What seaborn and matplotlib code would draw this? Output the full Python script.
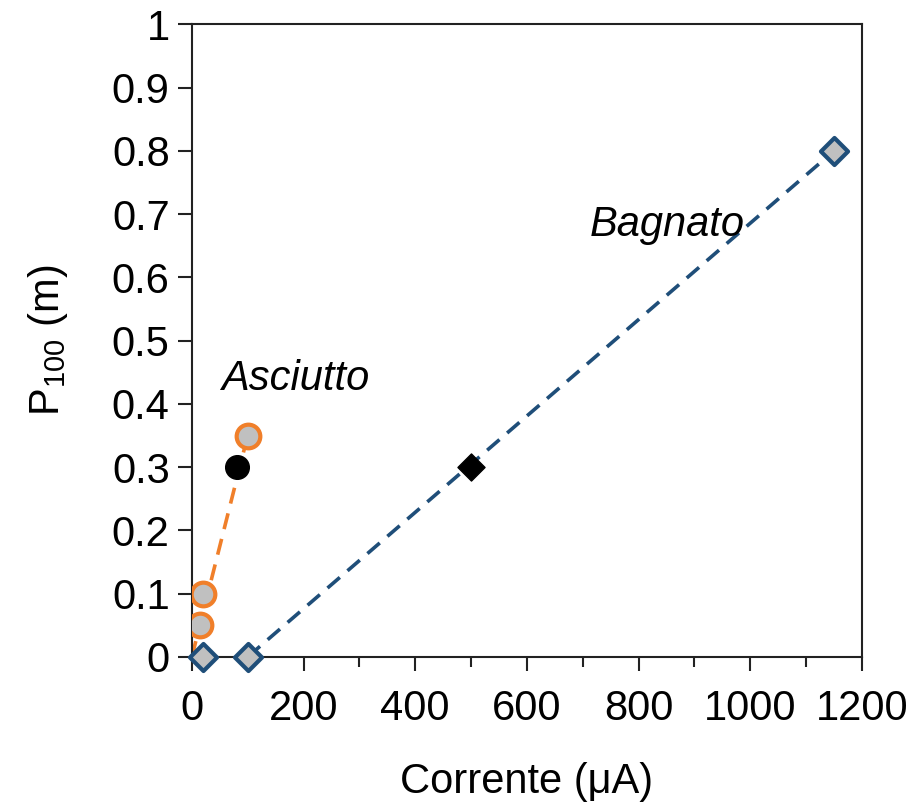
import matplotlib
matplotlib.use("Agg")
import matplotlib.pyplot as plt
import seaborn as sns
from matplotlib.ticker import MultipleLocator

# Data
asc_x = [15, 20, 100]
asc_y = [0.05, 0.10, 0.35]
asc_black_x = [80]
asc_black_y = [0.30]
asc_fit_x = [0, 100]
asc_fit_y = [0.0, 0.35]

bag_x = [20, 100, 1150]
bag_y = [0.0, 0.0, 0.80]
bag_black_x = [500]
bag_black_y = [0.30]
bag_fit_x = [100, 1150]
bag_fit_y = [0.0, 0.80]

y_ticks = [0, 0.1, 0.2, 0.3, 0.4, 0.5, 0.6, 0.7, 0.8, 0.9, 1]
y_tick_labels = ["0", "0.1", "0.2", "0.3", "0.4", "0.5", "0.6", "0.7", "0.8", "0.9", "1"]

sns.set_style("white")
plt.rcParams['font.family'] = ['Liberation Sans', 'DejaVu Sans']
plt.rcParams['mathtext.fontset'] = 'custom'
plt.rcParams['mathtext.rm'] = 'Liberation Sans'
plt.rcParams['text.color'] = 'black'
plt.rcParams['axes.labelcolor'] = 'black'
plt.rcParams['xtick.color'] = 'black'
plt.rcParams['ytick.color'] = 'black'

fig = plt.figure(figsize=(9.18, 8.11), dpi=100)
ax = fig.add_axes([0.209, 0.19, 0.730, 0.780])

orange = '#F07F2A'
navy = '#1F4E79'
gray = '#C0C0C0'

sns.lineplot(x=asc_fit_x, y=asc_fit_y, ax=ax, color=orange, lw=2.6,
             linestyle=(0, (4.5, 2.8)), zorder=2)
sns.lineplot(x=bag_fit_x, y=bag_fit_y, ax=ax, color=navy, lw=2.6,
             linestyle=(0, (4.5, 2.8)), zorder=2)

sns.scatterplot(x=asc_x, y=asc_y, ax=ax, marker='o', s=290, color=gray,
                edgecolor=orange, linewidth=3, zorder=3)
sns.scatterplot(x=asc_black_x, y=asc_black_y, ax=ax, marker='o', s=290,
                color='black', edgecolor='black', linewidth=1, zorder=3)
sns.scatterplot(x=bag_x, y=bag_y, ax=ax, marker='D', s=190, color=gray,
                edgecolor=navy, linewidth=3, zorder=4, clip_on=False)
sns.scatterplot(x=bag_black_x, y=bag_black_y, ax=ax, marker='D', s=190,
                color='black', edgecolor='black', linewidth=1, zorder=4)

ax.set_xlim(0, 1200)
ax.set_ylim(0, 1)
ax.xaxis.set_major_locator(MultipleLocator(200))
ax.xaxis.set_minor_locator(MultipleLocator(100))
ax.set_yticks(y_ticks)
ax.set_yticklabels(y_tick_labels)

ax.tick_params(axis='both', which='major', direction='out', length=10,
               width=1.5, labelsize=30, color='#222222', pad=6,
               bottom=True, left=True)
ax.tick_params(axis='x', which='minor', direction='out', length=7,
               width=1.5, color='#222222', bottom=True)
ax.tick_params(axis='x', pad=13)

for sp in ax.spines.values():
    sp.set_color('#222222')
    sp.set_linewidth(1.5)

ax.set_xlabel('Corrente (μA)', fontsize=30, labelpad=24)
ax.set_ylabel(r'P$_{\mathregular{100}}$ (m)', fontsize=30, labelpad=30)

ax.text(185, 0.44, 'Asciutto', fontsize=30, style='italic', ha='center',
        va='center')
ax.text(851, 0.682, 'Bagnato', fontsize=30, style='italic', ha='center',
        va='center')

fig.savefig('out.png', dpi=100)
